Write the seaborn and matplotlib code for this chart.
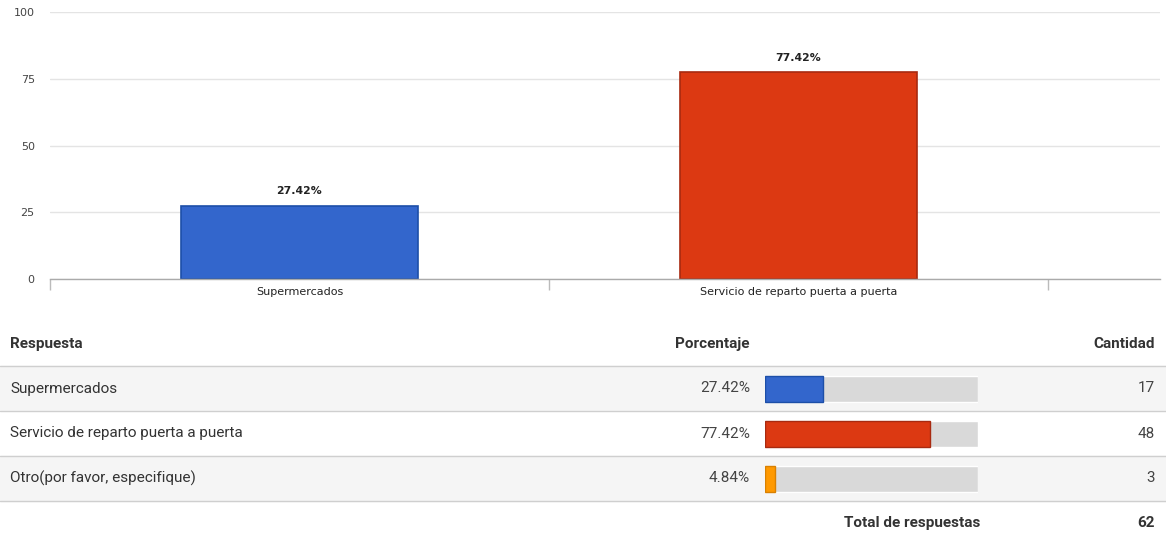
import matplotlib
matplotlib.use("Agg")
import matplotlib.pyplot as plt
import seaborn as sns
import pandas as pd

# ---- data ----
chart_categories = ["Supermercados", "Servicio de reparto puerta a puerta"]
chart_values = [27.42, 77.42]
table_categories = ["Supermercados", "Servicio de reparto puerta a puerta", "Otro(por favor, especifique)"]
table_percent = [27.42, 77.42, 4.84]
table_counts = [17, 48, 3]
total_responses = 62
y_ticks = [0, 25, 50, 75, 100]

bar_colors = ["#3366cc", "#dc3912", "#ff9900"]
edge_colors = ["#1d4fa8", "#a82a10", "#d98000"]

sns.set_theme(style="white")
plt.rcParams["font.family"] = ["DejaVu Sans"]

W, H = 1166, 535
fig = plt.figure(figsize=(W / 100, H / 100), dpi=100)

def fx(px):
    return px / W

def fy(py):
    return 1 - py / H

# ---- top chart ----
ax = fig.add_axes([fx(50), fy(279), fx(1160) - fx(50), fy(12) - fy(279)])
df = pd.DataFrame({"cat": chart_categories, "val": chart_values})
sns.barplot(data=df, x="cat", y="val", hue="cat", palette=bar_colors[:2],
            width=0.475, ax=ax, legend=False, saturation=1)
for p, ec in zip(ax.patches, edge_colors):
    p.set_edgecolor(ec)
    p.set_linewidth(1.2)
ax.set_xlim(-0.5, 1.725)
ax.set_ylim(0, 100)
ax.set_yticks(y_ticks)
ax.set_yticklabels([str(v) for v in y_ticks], fontsize=8, color="#444444")
ax.tick_params(axis="y", length=0, pad=11)
ax.yaxis.grid(True, color="#e4e4e4", linewidth=1)
ax.set_axisbelow(True)
ax.set_xticks([0, 1])
ax.set_xticklabels(chart_categories, fontsize=8, color="#222222")
ax.tick_params(axis="x", length=0, pad=6)
ax.set_xticks([-0.5, 0.5, 1.5], minor=True)
ax.tick_params(axis="x", which="minor", length=8, color="#bbbbbb", width=1, bottom=True)
ax.set_xlabel("")
ax.set_ylabel("")
for s in ["top", "right", "left"]:
    ax.spines[s].set_visible(False)
ax.spines["bottom"].set_color("#aaaaaa")
ax.spines["bottom"].set_linewidth(1)
for i, v in enumerate(chart_values):
    ax.text(i, v + 3.5, f"{v:.2f}%", ha="center", va="bottom", fontsize=7.8,
            fontweight="bold", color="#222222")

# ---- table background / text ----
bg = fig.add_axes([0, 0, 1, 1], zorder=-1)
bg.set_xlim(0, W)
bg.set_ylim(H, 0)
bg.axis("off")
row_lines = [366, 411, 456, 501]
row_fill = ["#f5f5f5", "#ffffff", "#f5f5f5"]
for i in range(3):
    bg.axhspan(row_lines[i], row_lines[i + 1], color=row_fill[i], zorder=0)
for yl in row_lines:
    bg.axhline(yl, color="#cfcfcf", linewidth=1, zorder=1)

tfs = 11
bg.text(10, 344, "Respuesta", ha="left", va="center", fontsize=tfs, fontweight="bold",
        color="#333333", family="Roboto")
bg.text(750, 344, "Porcentaje", ha="right", va="center", fontsize=tfs, fontweight="bold",
        color="#333333", family="Roboto")
bg.text(1155, 344, "Cantidad", ha="right", va="center", fontsize=tfs, fontweight="bold",
        color="#333333", family="Roboto")
for i, (c, p, n) in enumerate(zip(table_categories, table_percent, table_counts)):
    yc = (row_lines[i] + row_lines[i + 1]) / 2
    bg.text(10, yc, c, ha="left", va="center", fontsize=tfs, color="#333333", family="Roboto")
    bg.text(750, yc, f"{p:.2f}%", ha="right", va="center", fontsize=tfs, color="#444444",
            family="Roboto")
    bg.text(1155, yc, str(n), ha="right", va="center", fontsize=tfs, color="#444444",
            family="Roboto")
bg.text(980, 523, "Total de respuestas", ha="right", va="center", fontsize=tfs,
        fontweight="bold", color="#333333", family="Roboto")
bg.text(1155, 523, str(total_responses), ha="right", va="center", fontsize=tfs,
        fontweight="bold", color="#333333", family="Roboto")

# ---- mini horizontal bars ----
mx = fig.add_axes([fx(765), fy(501), fx(978) - fx(765), fy(366) - fy(501)])
mx.patch.set_alpha(0)
tdf = pd.DataFrame({"cat": table_categories, "pct": table_percent, "track": [100] * 3})
sns.barplot(data=tdf, x="track", y="cat", color="#d9d9d9", width=26 / 45,
            ax=mx, saturation=1, orient="h")
n_track = len(mx.patches)
sns.barplot(data=tdf, x="pct", y="cat", hue="cat", palette=bar_colors, width=26 / 45,
            ax=mx, saturation=1, orient="h", legend=False)
for p, ec in zip(mx.patches[n_track:], edge_colors):
    p.set_edgecolor(ec)
    p.set_linewidth(1)
mx.set_xlim(0, 100)
mx.set_ylim(2.5, -0.5)
mx.axis("off")

fig.savefig("out.png", dpi=100, facecolor="white")
